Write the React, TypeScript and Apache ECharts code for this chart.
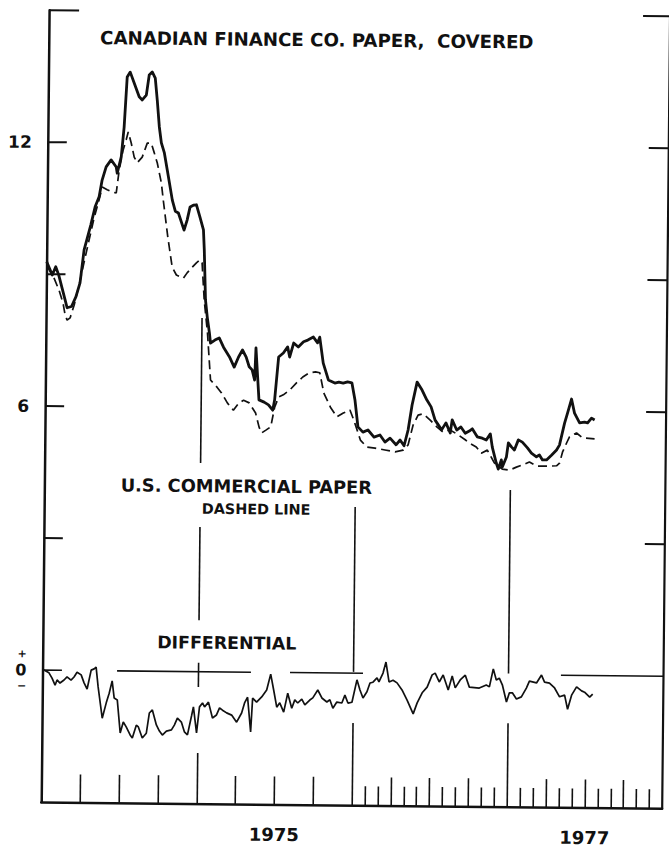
import React, { useEffect, useRef } from 'react';
import * as echarts from 'echarts';

// x values: months since January 1974; y values: percent per annum
const canadianPaper: [number, number][] = [
  [0.01, 9.28], [0.45, 8.98], [0.71, 9.17], [0.95, 8.98], [1.46, 8.42], [1.62, 8.24], [1.96, 8.27], [2.29, 8.49],
  [2.6, 8.81], [2.89, 9.56], [3.39, 10.13], [3.71, 10.54], [4.01, 10.77], [4.23, 11.15], [4.53, 11.45], [4.91, 11.61],
  [5.31, 11.45], [5.39, 11.31], [5.69, 11.68], [5.89, 12.36], [6.09, 13.5], [6.32, 13.61], [6.64, 13.36], [7.03, 13.05],
  [7.27, 12.98], [7.58, 13.09], [7.79, 13.55], [8.02, 13.62], [8.26, 13.48], [8.43, 12.98], [8.61, 12.37], [8.78, 12.01],
  [9.02, 11.78], [9.26, 11.39], [9.67, 10.71], [9.91, 10.46], [10.15, 10.42], [10.6, 10.03], [10.83, 10.26], [11.05, 10.56],
  [11.3, 10.6], [11.54, 10.61], [11.82, 10.33], [12.1, 10.04], [12.18, 9.58], [12.31, 8.45], [12.46, 8.06], [12.64, 7.7],
  [12.73, 7.47], [13.07, 7.54], [13.4, 7.59], [13.74, 7.38], [14.21, 7.16], [14.58, 6.93], [14.91, 7.16], [15.21, 7.32],
  [15.5, 7.16], [15.74, 6.94], [15.97, 6.87], [16.17, 6.64], [16.25, 7.37], [16.4, 6.71], [16.52, 6.19], [16.92, 6.14],
  [17.26, 6.08], [17.59, 5.96], [17.73, 6.19], [18.01, 7.17], [18.37, 7.26], [18.7, 7.4], [18.86, 7.17], [19.16, 7.49],
  [19.52, 7.4], [19.92, 7.52], [20.25, 7.56], [20.68, 7.63], [21.01, 7.5], [21.17, 7.63], [21.46, 7.04], [21.87, 6.66],
  [22.37, 6.59], [22.68, 6.61], [23.02, 6.59], [23.36, 6.62], [23.69, 6.6], [23.94, 6.21], [24.19, 5.6], [24.58, 5.48],
  [24.97, 5.53], [25.44, 5.37], [25.9, 5.42], [26.29, 5.26], [26.68, 5.35], [27.15, 5.2], [27.46, 5.31], [27.77, 5.18],
  [28.07, 5.54], [28.36, 6.11], [28.73, 6.63], [29.12, 6.45], [29.49, 6.23], [29.83, 6.07], [30.15, 5.77], [30.66, 5.55],
  [30.99, 5.71], [31.33, 5.48], [31.47, 5.78], [31.83, 5.55], [32.15, 5.62], [32.49, 5.48], [32.8, 5.53], [33.03, 5.58],
  [33.42, 5.4], [33.81, 5.37], [34.12, 5.33], [34.43, 5.47], [34.59, 5.17], [34.91, 4.81], [35.07, 4.67], [35.3, 4.88],
  [35.38, 4.72], [35.69, 4.95], [35.83, 5.27], [36.07, 5.18], [36.3, 5.11], [36.6, 5.34], [36.91, 5.29], [37.31, 5.16],
  [37.62, 5.04], [38.01, 4.96], [38.24, 5.0], [38.48, 4.89], [38.79, 4.89], [39.17, 5.0], [39.56, 5.12], [39.78, 5.23],
  [40.16, 5.73], [40.38, 5.96], [40.68, 6.28], [40.92, 5.96], [41.32, 5.74], [41.7, 5.76], [41.94, 5.74], [42.24, 5.85],
  [42.48, 5.81],
];

const usCommercialPaper: [number, number][] = [
  [0.03, 9.19], [0.59, 8.91], [0.98, 8.64], [1.3, 8.35], [1.47, 8.08], [1.63, 7.96], [1.86, 8.01], [2.16, 8.3],
  [2.53, 8.76], [2.9, 9.28], [3.27, 9.79], [3.64, 10.29], [4.01, 10.7], [4.24, 10.99], [4.63, 10.93], [5.01, 10.88],
  [5.33, 10.86], [5.54, 11.38], [5.83, 11.84], [6.06, 12.07], [6.21, 12.25], [6.45, 12.0], [6.69, 11.68], [6.93, 11.55],
  [7.31, 11.68], [7.69, 12.0], [8.0, 12.0], [8.24, 11.78], [8.48, 11.55], [8.81, 11.1], [8.97, 10.71], [9.35, 9.87],
  [9.71, 9.19], [10.04, 9.01], [10.35, 8.97], [10.59, 8.94], [10.87, 9.06], [11.2, 9.17], [11.58, 9.29], [11.85, 9.36],
  [12.02, 9.29], [12.21, 8.45], [12.49, 7.7], [12.76, 6.63], [13.27, 6.47], [13.62, 6.34], [14.09, 6.11], [14.55, 5.95],
  [14.95, 6.11], [15.33, 6.18], [15.77, 6.12], [16.27, 5.89], [16.55, 5.57], [16.75, 5.44], [17.11, 5.51], [17.45, 5.58],
  [17.74, 6.03], [18.04, 6.26], [18.4, 6.31], [18.89, 6.42], [19.39, 6.58], [19.89, 6.72], [20.35, 6.81], [20.87, 6.84],
  [21.2, 6.82], [21.53, 6.36], [22.05, 6.04], [22.55, 5.82], [23.05, 5.91], [23.56, 5.98], [23.87, 5.75], [24.39, 5.3],
  [24.9, 5.14], [25.52, 5.12], [26.3, 5.08], [27.08, 5.04], [27.7, 5.08], [28.08, 5.2], [28.45, 5.65], [28.83, 5.88],
  [29.22, 5.91], [29.77, 5.77], [30.31, 5.61], [30.78, 5.5], [31.32, 5.55], [31.95, 5.44], [32.49, 5.33], [32.81, 5.26],
  [33.35, 5.17], [33.74, 5.03], [34.21, 5.1], [34.76, 4.81], [35.38, 4.67], [35.93, 4.65], [36.47, 4.72], [36.93, 4.77],
  [37.47, 4.84], [38.02, 4.75], [39.03, 4.75], [39.57, 4.76], [39.8, 4.82], [40.02, 5.07], [40.33, 5.28], [40.55, 5.42],
  [41.09, 5.51], [41.56, 5.4], [42.49, 5.38],
];

const differential: [number, number][] = [
  [0, 0.02], [0.5, -0.06], [0.74, -0.18], [0.98, -0.34], [1.13, -0.22], [1.36, -0.29], [1.67, -0.22], [1.9, -0.15],
  [2.21, -0.22], [2.44, -0.15], [2.67, -0.04], [2.99, -0.1], [3.22, -0.28], [3.46, -0.42], [3.76, 0.01], [3.99, 0.04],
  [4.14, 0.08], [4.31, -0.37], [4.65, -1.08], [4.95, -0.73], [5.17, -0.51], [5.39, -0.23], [5.56, -0.62], [5.8, -0.66],
  [6.05, -1.41], [6.28, -1.16], [6.51, -1.27], [6.83, -1.46], [6.99, -1.52], [7.29, -1.23], [7.45, -1.27], [7.76, -1.52],
  [8.07, -1.41], [8.29, -0.95], [8.52, -0.88], [8.84, -1.22], [9.08, -1.36], [9.31, -1.45], [9.62, -1.36], [10.01, -1.33],
  [10.23, -1.22], [10.46, -1.06], [10.77, -1.15], [11.01, -1.37], [11.25, -1.44], [11.55, -1.01], [11.69, -0.8], [11.95, -1.39],
  [12.16, -0.8], [12.39, -0.71], [12.55, -0.8], [12.85, -0.69], [13.17, -1.05], [13.48, -0.98], [13.71, -0.82], [13.94, -0.87],
  [14.26, -0.93], [14.65, -0.98], [15.04, -1.14], [15.42, -0.93], [15.64, -0.7], [15.87, -0.57], [16.13, -1.36], [16.26, -0.59],
  [16.57, -0.68], [16.96, -0.56], [17.34, -0.4], [17.64, -0.04], [17.88, -0.4], [18.13, -0.79], [18.36, -0.69], [18.67, -0.9],
  [18.97, -0.47], [19.29, -0.81], [19.52, -0.62], [19.75, -0.69], [20.06, -0.6], [20.3, -0.73], [20.68, -0.62], [20.91, -0.57],
  [21.29, -0.39], [21.61, -0.57], [22.0, -0.66], [22.23, -0.61], [22.47, -0.8], [22.77, -0.66], [23.16, -0.68], [23.39, -0.5],
  [23.63, -0.68], [23.94, -0.66], [24.31, -0.15], [24.55, -0.38], [24.79, -0.56], [25.09, -0.42], [25.32, -0.22], [25.55, -0.2],
  [25.86, -0.1], [26.01, -0.19], [26.32, 0.01], [26.54, 0.26], [26.79, -0.19], [27.1, -0.15], [27.41, -0.21], [27.8, -0.37],
  [28.2, -0.6], [28.68, -0.91], [28.98, -0.66], [29.36, -0.43], [29.74, -0.3], [30.12, -0.02], [30.35, 0.02], [30.67, -0.18],
  [30.97, -0.02], [31.37, -0.36], [31.67, -0.04], [31.91, -0.31], [32.29, -0.13], [32.68, -0.02], [33.0, -0.29], [33.77, -0.31],
  [34.31, -0.24], [34.55, -0.28], [34.84, 0.13], [35.08, -0.12], [35.31, -0.08], [35.55, -0.23], [35.88, -0.62], [36.1, -0.41],
  [36.33, -0.41], [36.65, -0.55], [37.03, -0.5], [37.41, -0.3], [37.64, -0.14], [38.19, -0.18], [38.57, 0.0], [38.81, -0.16],
  [39.19, -0.18], [39.59, -0.29], [39.98, -0.49], [40.37, -0.45], [40.61, -0.77], [40.91, -0.45], [41.29, -0.26], [41.68, -0.35],
  [41.91, -0.38], [42.31, -0.49], [42.54, -0.42],
];

// axis ticks and labels
const yearLabels = [
  { month: 18, label: '1975' },
  { month: 42, label: '1977' },
];
const yTickValues = [3, 6, 9, 12];
const yTopTick = [15];
const yLabelValues = [0, 6, 12];
const quarterTicks = [3, 6, 9, 15, 18, 21, 27, 30, 33, 39, 42, 45];
const monthTicks = [25, 26, 28, 29, 31, 32, 34, 35, 37, 38, 40, 41, 43, 44, 46, 47];

// year separator lines: [month, fromValue, toValue]
const yearLineSegments: [number, number, number][] = [
  [12, 8.04, 4.74], [12, 3.29, 1.17], [12, 0.2, -0.35], [12, -1.85, -3],
  [24, 3.78, 0.03], [24, -1.13, -3],
  [36, 4.2, 0.03], [36, -1.1, -3],
];
// zero reference of the differential: [fromMonth, toMonth]
const zeroLineSegments: [number, number][] = [
  [0, 1.5], [5.76, 16.11], [19.13, 24.77], [40.07, 48],
];

const INK = '#111';
const FONT = '"DejaVu Sans", Verdana, sans-serif';

export default function App() {
  const ref = useRef<HTMLDivElement>(null);

  useEffect(() => {
    if (!ref.current) return;
    const chart = echarts.init(ref.current, undefined, { renderer: 'svg' });

    const markData: any[] = [
      ...yearLineSegments.map(([m, a, b]) => [{ coord: [m, a] }, { coord: [m, b] }]),
      ...zeroLineSegments.map(([a, b]) => [{ coord: [a, 0] }, { coord: [b, 0] }]),
    ];

    const baseY = { type: 'value', min: -3, max: 15, splitLine: { show: false } };
    const centered = { align: 'center', verticalAlign: 'middle', textAlign: 'center', textVerticalAlign: 'middle' };

    const option: any = {
      animation: false,
      backgroundColor: '#fff',
      grid: { left: 45, right: 3, top: 13, bottom: 42, containLabel: false },
      xAxis: [
        {
          type: 'value', min: 0, max: 48, position: 'bottom',
          splitLine: { show: false },
          axisLine: { show: true, onZero: false, lineStyle: { color: INK, width: 2.5 } },
          axisTick: { show: true, inside: true, length: 28, customValues: quarterTicks, lineStyle: { color: INK, width: 1.6 } },
          axisLabel: {
            show: true, customValues: yearLabels.map((d) => d.month), margin: 21,
            formatter: (v: number) => (yearLabels.find((d) => d.month === v) || { label: '' }).label,
            color: INK, fontFamily: FONT, fontWeight: 'bold', fontSize: 18,
          },
        },
        {
          type: 'value', min: 0, max: 48, position: 'bottom',
          splitLine: { show: false },
          axisLine: { show: false, onZero: false },
          axisTick: { show: true, inside: true, length: 19, customValues: monthTicks, lineStyle: { color: INK, width: 1.6 } },
          axisLabel: { show: false },
        },
      ],
      yAxis: [
        {
          ...baseY, position: 'left',
          axisLine: { show: true, lineStyle: { color: INK, width: 2.5 } },
          axisTick: { show: true, inside: true, length: 19, customValues: yTickValues, lineStyle: { color: INK, width: 2 } },
          axisLabel: {
            show: true, customValues: yLabelValues, margin: 16,
            formatter: (v: number) => (v === 0 ? '{pm|+}\n{z|0}\n{mn|\u2212}' : String(v)),
            color: INK, fontFamily: FONT, fontWeight: 'bold', fontSize: 17,
            rich: {
              pm: { fontFamily: FONT, fontWeight: 'bold', fontSize: 11, lineHeight: 13, color: INK },
              z: { fontFamily: FONT, fontWeight: 'bold', fontSize: 16, lineHeight: 19, color: INK },
              mn: { fontFamily: FONT, fontWeight: 'bold', fontSize: 11, lineHeight: 13, color: INK },
            },
          },
        },
        {
          ...baseY, position: 'left',
          axisLine: { show: false },
          axisTick: { show: true, inside: true, length: 30, customValues: yTopTick, lineStyle: { color: INK, width: 2 } },
          axisLabel: { show: false },
        },
        {
          ...baseY, position: 'right',
          axisLine: { show: true, lineStyle: { color: INK, width: 2.2 } },
          axisTick: { show: true, inside: true, length: 20, customValues: yTickValues, lineStyle: { color: INK, width: 2 } },
          axisLabel: { show: false },
        },
        {
          ...baseY, position: 'right',
          axisLine: { show: false },
          axisTick: { show: true, inside: true, length: 27, customValues: yTopTick, lineStyle: { color: INK, width: 2 } },
          axisLabel: { show: false },
        },
      ],
      graphic: [
        { type: 'text', x: 313, y: 40, style: { text: 'CANADIAN FINANCE CO. PAPER,  COVERED', fill: INK, fontFamily: FONT, fontWeight: 'bold', fontSize: 18.2, ...centered } },
        { type: 'text', x: 247, y: 487, style: { text: 'U.S. COMMERCIAL PAPER', fill: INK, fontFamily: FONT, fontWeight: 'bold', fontSize: 17.8, ...centered } },
        { type: 'text', x: 257, y: 510, style: { text: 'DASHED LINE', fill: INK, fontFamily: FONT, fontWeight: 'bold', fontSize: 14.4, ...centered } },
        { type: 'text', x: 229, y: 644, style: { text: 'DIFFERENTIAL', fill: INK, fontFamily: FONT, fontWeight: 'bold', fontSize: 17.4, ...centered } },
      ],
      series: [
        {
          name: 'U.S. commercial paper', type: 'line', data: usCommercialPaper, xAxisIndex: 0, yAxisIndex: 0,
          symbol: 'none', showSymbol: false, z: 2,
          lineStyle: { color: INK, width: 1.7, type: [9, 5] },
        },
        {
          name: 'Canadian finance co. paper, covered', type: 'line', data: canadianPaper, xAxisIndex: 0, yAxisIndex: 0,
          symbol: 'none', showSymbol: false, z: 3,
          lineStyle: { color: INK, width: 2.8, join: 'round' },
        },
        {
          name: 'Differential', type: 'line', data: differential, xAxisIndex: 0, yAxisIndex: 0,
          symbol: 'none', showSymbol: false, z: 3,
          lineStyle: { color: INK, width: 1.7 },
          markLine: {
            silent: true, symbol: ['none', 'none'], label: { show: false },
            lineStyle: { color: INK, width: 1.6, type: 'solid' },
            emphasis: { disabled: true },
            data: markData,
          },
        },
      ],
    };

    chart.setOption(option);
    return () => chart.dispose();
  }, []);

  return (
    <div style={{ position: 'fixed', left: 0, top: 0, width: 669, height: 847, overflow: 'hidden', background: '#fff' }}>
      <div
        ref={ref}
        style={{ width: 669, height: 847, transform: 'rotate(0.57deg)', transformOrigin: '50% 50%' }}
      />
    </div>
  );
}
